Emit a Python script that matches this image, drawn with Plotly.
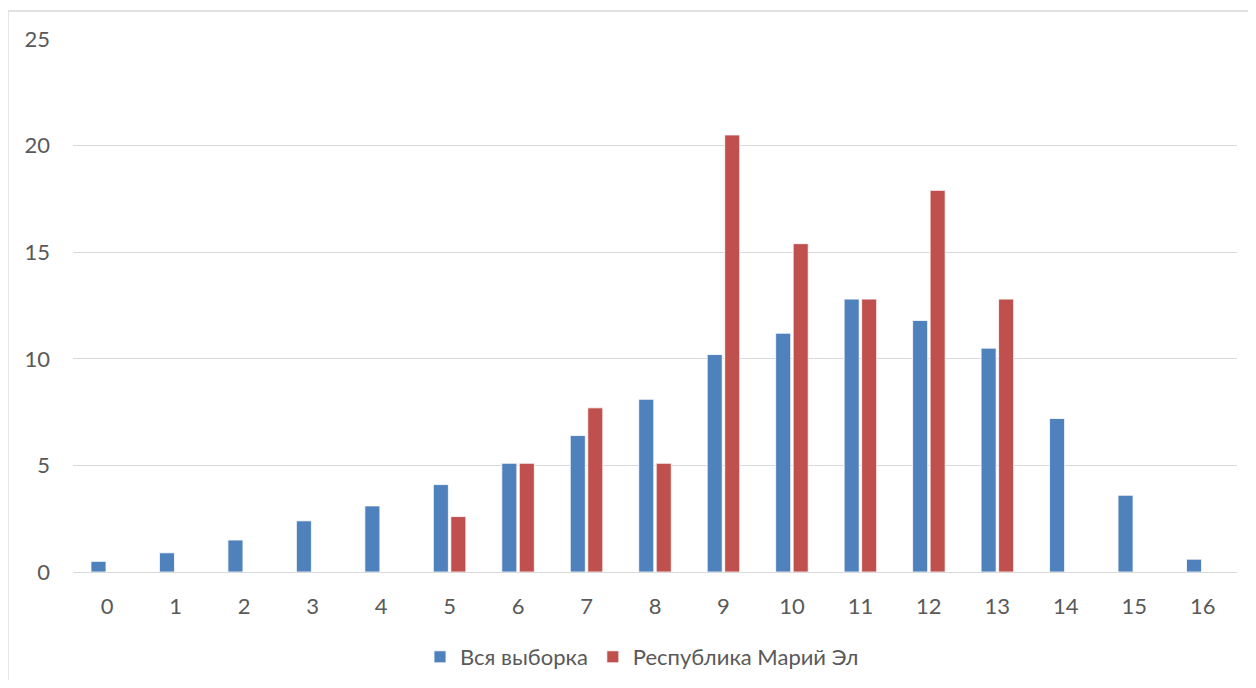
import plotly.graph_objects as go

categories = [str(i) for i in range(17)]
all_sample = [0.5, 0.9, 1.5, 2.4, 3.1, 4.1, 5.1, 6.4, 8.1, 10.2, 11.2, 12.8, 11.8, 10.5, 7.2, 3.6, 0.6]
mari_el = [None, None, None, None, None, 2.6, 5.1, 7.7, 5.1, 20.5, 15.4, 12.8, 17.9, 12.8, None, None, None]
y_ticks = [0, 5, 10, 15, 20, 25]

# page body has an 8px margin; work in page pixels and convert
OFF = 8
W, H = 1256 - 2 * OFF, 688 - 2 * OFF
L, R, T, B = 73 - OFF, 1237 - OFF, 39 - OFF, 572 - OFF

fig = go.Figure()
fig.add_trace(go.Bar(x=categories, y=all_sample, name="Вся выборка",
                     marker=dict(color="#4F81BD", line=dict(color="#FFFFFF", width=0.8))))
fig.add_trace(go.Bar(x=categories, y=mari_el, name="Республика Марий Эл",
                     marker=dict(color="#C0504D", line=dict(color="#FFFFFF", width=0.8))))

pw = R - L
ph = B - T
def px_x(p):
    return (p - OFF - L) / pw
def px_y(p):
    return (B - (p - OFF)) / ph

fig.update_layout(
    width=W, height=H,
    margin=dict(l=L, r=W - R, t=T, b=H - B, autoexpand=False),
    paper_bgcolor="white", plot_bgcolor="white",
    font=dict(family="Lato, 'Open Sans', sans-serif", size=22, color="#595959"),
    barmode="group", bargap=0.489, bargroupgap=0.14,
    xaxis=dict(type="category", showgrid=False, showline=True, linecolor="#D9D9D9",
               linewidth=1.3, ticks="", ticklabelstandoff=14,
               tickfont=dict(size=22, color="#595959")),
    yaxis=dict(range=[0, 25], tickvals=y_ticks, showgrid=True, gridcolor="#D9D9D9",
               gridwidth=1.3, zeroline=False, showline=False, ticks="",
               ticklabelstandoff=22, tickfont=dict(size=22, color="#595959")),
    legend=dict(orientation="h", x=px_x(642), xanchor="center", y=px_y(657),
                yanchor="middle", font=dict(size=22, color="#595959"),
                itemclick=False),
    showlegend=True,
    shapes=[dict(type="rect", xref="paper", yref="paper",
                 x0=px_x(8), x1=px_x(1290), y0=px_y(720), y1=px_y(11),
                 line=dict(color="#D9D9D9", width=1.3), fillcolor="rgba(0,0,0,0)",
                 layer="below")],
)

fig.write_html("out.html")
